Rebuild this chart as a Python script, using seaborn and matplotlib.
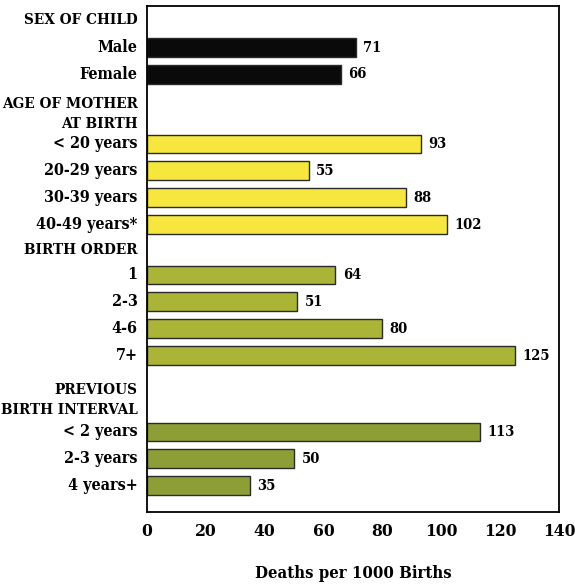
import matplotlib
matplotlib.use("Agg")
import numpy as np
import pandas as pd
import matplotlib.pyplot as plt
from matplotlib import font_manager
import seaborn as sns

# values (deaths per 1000 births)
sex_labels = ["Male", "Female"]
sex_values = [71, 66]
age_labels = ["< 20 years", "20-29 years", "30-39 years", "40-49 years*"]
age_values = [93, 55, 88, 102]
order_labels = ["1", "2-3", "4-6", "7+"]
order_values = [64, 51, 80, 125]
interval_labels = ["< 2 years", "2-3 years", "4 years+"]
interval_values = [113, 50, 35]

headers = ["SEX OF CHILD", "AGE OF MOTHER\nAT BIRTH", "BIRTH ORDER", "PREVIOUS\nBIRTH INTERVAL"]
group_colors = ["#0a0a0a", "#f6e63e", "#aab436", "#8e9e36"]

# layout in pixel rows from the top of the frame
step = 26.9
group_starts = [41.5, 138, 269, 426]
header_pos = [14, 108, 244, 394]

groups = [(sex_labels, sex_values), (age_labels, age_values),
          (order_labels, order_values), (interval_labels, interval_values)]

rows = []
for gi, (labels, values) in enumerate(groups):
    for i, (lab, val) in enumerate(zip(labels, values)):
        rows.append({"label": lab, "value": val, "group": headers[gi],
                     "pos": group_starts[gi] + i * step})
df = pd.DataFrame(rows)

sns.set_style("white")
plt.rcParams["text.color"] = "black"
plt.rcParams["axes.labelcolor"] = "black"
plt.rcParams["xtick.color"] = "black"

# a condensed bold serif if there is one, otherwise Liberation Serif bold
cond = [f.fname for f in font_manager.fontManager.ttflist
        if "Serif" in f.fname and "Condensed" in f.fname and "Bold" in f.fname
        and "Italic" not in f.fname and "Oblique" not in f.fname]
if cond:
    fp = font_manager.FontProperties(fname=cond[0])
else:
    fp = font_manager.FontProperties(family="Liberation Serif", weight="bold")


def F(size):
    p = fp.copy()
    p.set_size(size)
    return p


fig = plt.figure(figsize=(5.75, 5.86), dpi=100)
ax = fig.add_axes([147 / 575, 74 / 586, 412 / 575, 506 / 586])

sns.barplot(data=df, x="value", y="pos", hue="group", orient="h", native_scale=True,
            palette=dict(zip(headers, group_colors)), dodge=False, width=0.7,
            saturation=1, edgecolor="#2a2a2a", linewidth=1.0, legend=False, ax=ax)

ax.set_xlim(0, 140)
ax.set_ylim(506, 0)
ax.set_yticks([])
ax.set_xticks(np.arange(0, 141, 20))
ax.set_xticklabels([str(t) for t in range(0, 141, 20)], fontproperties=F(12.5))
ax.tick_params(axis="x", length=0, pad=8)
ax.set_xlabel("Deaths per 1000 Births", fontproperties=F(12))
ax.xaxis.set_label_coords(0.5, -0.104)
ax.set_ylabel("")

for s in ax.spines.values():
    s.set_visible(True)
    s.set_color("black")
    s.set_linewidth(1.3)

# value labels and row labels
for _, r in df.iterrows():
    ax.text(r["value"] + 2.5, r["pos"], str(r["value"]), va="center", ha="left",
            fontproperties=F(10.5))
    ax.text(-3.2, r["pos"], r["label"], va="center", ha="right",
            fontproperties=F(11.5), clip_on=False)

for h, p in zip(headers, header_pos):
    ax.text(-3.2, p, h, va="center", ha="right", fontproperties=F(11),
            linespacing=1.55, clip_on=False)

fig.savefig("out.png", dpi=100)
